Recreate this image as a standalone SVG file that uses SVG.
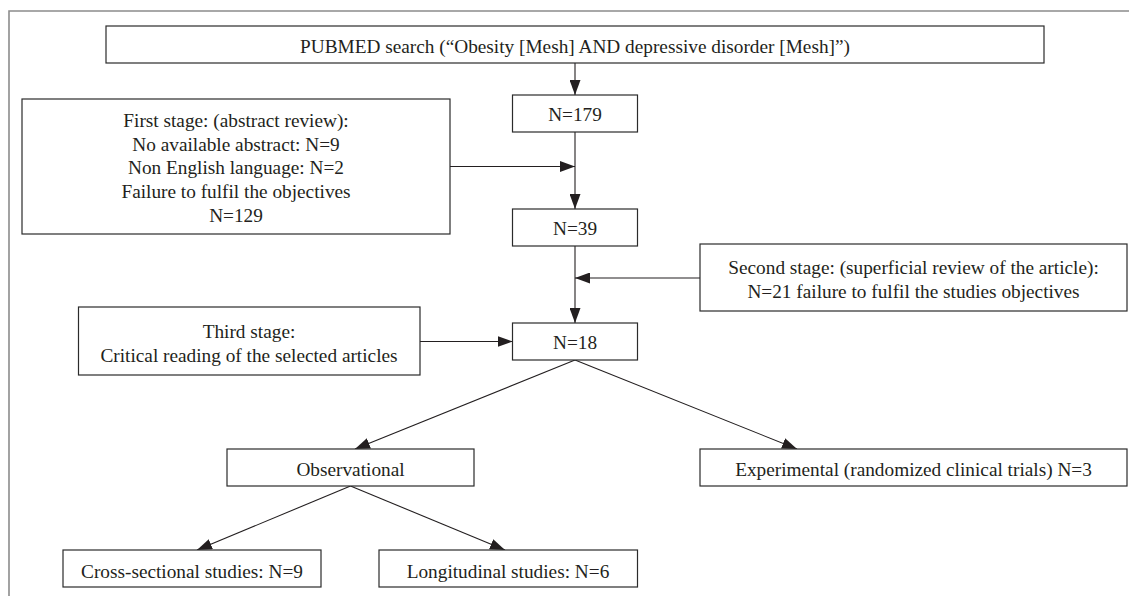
<svg xmlns="http://www.w3.org/2000/svg" width="1129" height="596" viewBox="0 0 1129 596">
<style>
.box{fill:#fff;stroke:#2b2b2b;stroke-width:1.2}
.t{font-family:"Liberation Serif","Times New Roman",serif;font-size:19.3px;fill:#231f20;text-anchor:middle}
.c{stroke:#231f20;stroke-width:1.1;fill:none}
.frame{stroke:#8c8c8c;stroke-width:1.6;fill:none}
</style>
<defs>
<marker id="ah" markerUnits="userSpaceOnUse" markerWidth="15" markerHeight="11" refX="15" refY="5.5" orient="auto">
<path d="M0,0 L15,5.5 L0,11 Z" fill="#231f20"/>
</marker>
</defs>
<rect width="1129" height="596" fill="#fff"/>
<path class="frame" d="M9,596 L9,11 L1129,11"/>

<g id="connectors">
<line class="c" x1="575" y1="63" x2="575" y2="95" marker-end="url(#ah)"/>
<line class="c" x1="575" y1="132" x2="575" y2="209" marker-end="url(#ah)"/>
<line class="c" x1="450" y1="166.5" x2="575" y2="166.5" marker-end="url(#ah)"/>
<line class="c" x1="575" y1="246" x2="575" y2="323" marker-end="url(#ah)"/>
<line class="c" x1="700" y1="278" x2="575" y2="278" marker-end="url(#ah)"/>
<line class="c" x1="420" y1="341.5" x2="512.5" y2="341.5" marker-end="url(#ah)"/>
<line class="c" x1="575" y1="360" x2="355" y2="449" marker-end="url(#ah)"/>
<line class="c" x1="575" y1="360" x2="797" y2="449" marker-end="url(#ah)"/>
<line class="c" x1="350.5" y1="486" x2="197" y2="550" marker-end="url(#ah)"/>
<line class="c" x1="350.5" y1="486" x2="505" y2="550" marker-end="url(#ah)"/>
</g>

<g id="pubmed">
<rect class="box" x="106" y="26" width="938" height="37"/>
<text class="t" x="575" y="53">PUBMED search (“Obesity [Mesh] AND depressive disorder [Mesh]”)</text>
</g>
<g id="n179">
<rect class="box" x="512.5" y="95" width="125" height="37"/>
<text class="t" x="575" y="121">N=179</text>
</g>
<g id="first-stage">
<rect class="box" x="22" y="99" width="428" height="135"/>
<text class="t" x="236" y="127">First stage: (abstract review):</text>
<text class="t" x="236" y="150.5">No available abstract: N=9</text>
<text class="t" x="236" y="174">Non English language: N=2</text>
<text class="t" x="236" y="198">Failure to fulfil the objectives</text>
<text class="t" x="236" y="221.5">N=129</text>
</g>
<g id="n39">
<rect class="box" x="512.5" y="209" width="125" height="37"/>
<text class="t" x="575" y="235">N=39</text>
</g>
<g id="second-stage">
<rect class="box" x="700" y="244" width="427" height="67"/>
<text class="t" x="913.5" y="274">Second stage: (superficial review of the article):</text>
<text class="t" x="913.5" y="298">N=21 failure to fulfil the studies objectives</text>
</g>
<g id="n18">
<rect class="box" x="512.5" y="323" width="125" height="37"/>
<text class="t" x="575" y="349">N=18</text>
</g>
<g id="third-stage">
<rect class="box" x="78.5" y="307" width="341.5" height="68"/>
<text class="t" x="249" y="338">Third stage:</text>
<text class="t" x="249" y="362">Critical reading of the selected articles</text>
</g>
<g id="observational">
<rect class="box" x="227" y="449" width="247" height="37"/>
<text class="t" x="350.5" y="475.5">Observational</text>
</g>
<g id="experimental">
<rect class="box" x="700" y="449" width="427" height="37"/>
<text class="t" x="913.5" y="475.5">Experimental (randomized clinical trials) N=3</text>
</g>
<g id="cross-sectional">
<rect class="box" x="63" y="550" width="258" height="37"/>
<text class="t" x="192" y="577.5">Cross-sectional studies: N=9</text>
</g>
<g id="longitudinal">
<rect class="box" x="379" y="550" width="258.5" height="37"/>
<text class="t" x="508" y="577.5">Longitudinal studies: N=6</text>
</g>
</svg>
